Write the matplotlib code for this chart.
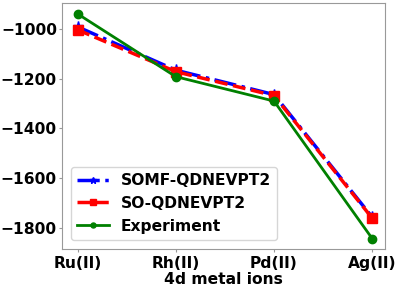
import numpy as np
import matplotlib
matplotlib.use('Agg')
import matplotlib.pyplot as plt

ions = ['Ru(II)', 'Rh(II)', 'Pd(II)', 'Ag(II)']
somf = [-992, -1166, -1264, -1756]
so = [-1004, -1172, -1268, -1760]
expt = [-940, -1192, -1290, -1842]

font = {'weight': 'bold', 'size': 11.2}
matplotlib.rc('font', **font)

fig, ax = plt.subplots(figsize=(3.99, 2.88), dpi=100)
x = np.arange(len(ions))
ax.plot(x, somf, 'b-.', marker='*', markersize=8, lw=2.5, label='SOMF-QDNEVPT2')
ax.plot(x, so, 'r--', marker='s', markersize=6.5, lw=2.5, label='SO-QDNEVPT2')
ax.plot(x, expt, 'g-', marker='o', markersize=6, lw=2, label='Experiment')

ax.set_xticks(x)
ax.set_xticklabels(ions)
ax.set_yticks([-1000, -1200, -1400, -1600, -1800])
ax.set_ylim(-1884, -896)
ax.set_xlim(-0.16, 3.13)
ax.set_xlabel('4d metal ions', fontweight='bold', labelpad=1)
for s in ax.spines.values():
    s.set_color('#999999')
ax.tick_params(axis='both', length=2.5, width=0.8, color='#999999')
ax.tick_params(axis='y', pad=1)
ax.tick_params(axis='x', pad=2.5)
ax.legend(loc='lower left', fontsize=11.2, handlelength=2.0, markerscale=0.6,
          bbox_to_anchor=(0.0, 0.0), borderaxespad=0.6)

fig.subplots_adjust(left=0.155, right=0.965, top=0.99, bottom=0.135)
fig.savefig('out.png')
